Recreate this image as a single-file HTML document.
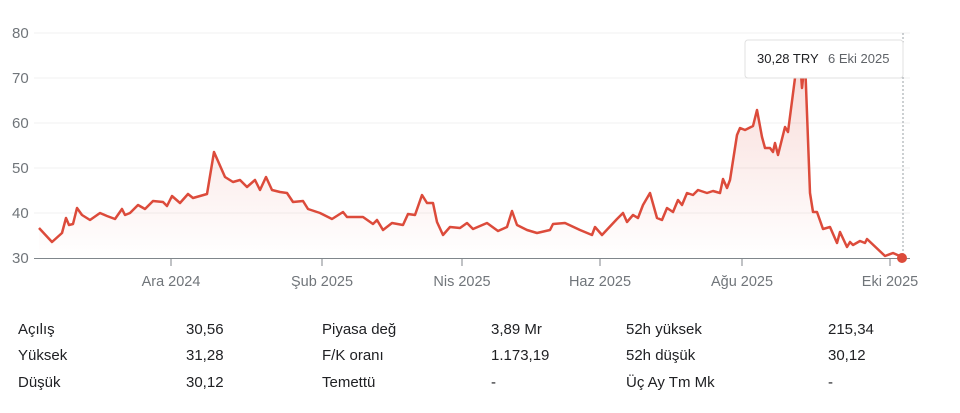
<!DOCTYPE html>
<html><head><meta charset="utf-8"><style>
body{margin:0;background:#fff;font-family:"Liberation Sans",sans-serif;}
.t{position:absolute;font-size:15px;color:#202124;}
</style></head><body>
<div style="position:relative;width:960px;height:413px;overflow:hidden">
<svg width="960" height="300" style="position:absolute;left:0;top:0" font-family="Liberation Sans, sans-serif">
<defs><linearGradient id="g" x1="0" y1="0" x2="0" y2="1"><stop offset="0" stop-color="#e0594a" stop-opacity="0.22"/><stop offset="1" stop-color="#e0594a" stop-opacity="0"/></linearGradient></defs>
<g stroke="#f1f1f1" stroke-width="1">
<line x1="34" y1="33" x2="910" y2="33"/><line x1="34" y1="78" x2="910" y2="78"/><line x1="34" y1="123" x2="910" y2="123"/><line x1="34" y1="168" x2="910" y2="168"/><line x1="34" y1="213" x2="910" y2="213"/>
</g>
<g fill="#70757a" font-size="15">
<text x="12" y="38">80</text><text x="12" y="83">70</text><text x="12" y="128">60</text><text x="12" y="173">50</text><text x="12" y="218">40</text><text x="12" y="263">30</text>
</g>
<polygon fill="url(#g)" points="39,228 52,242 62,233 66,218 69,225 73,224 77,208 82,215 90,220 100,213 107,216 115,219 122,209 125,215 130,213 138,205 145,209 153,201 163,202 167,206 172,196 180,203 188,194 193,198 207,194 214,152 225,177 233,182 240,180 247,187 255,180 260,190 266,177 272,190 280,192 287,193 293,202 303,201 308,209 320,213 332,219 343,212 347,217 363,217 373,224 377,220 383,230 392,223 403,225 408,214 415,215 422,195 427,203 433,203 437,222 443,235 450,227 460,228 467,223 473,229 480,226 487,223 498,231 507,227 512,211 517,225 527,230 537,233 550,230 553,224 565,223 580,230 592,235 595,227 602,235 617,219 623,213 627,222 633,215 638,218 643,205 650,193 657,218 662,220 667,208 673,212 678,200 682,205 687,193 693,195 698,190 707,193 713,191 720,193 723,179 727,188 730,180 737,135 740,128 745,130 753,126 757,110 762,137 765,148 770,148 773,152 775,143 778,155 785,127 788,132 795,78 800,60 802,88 805,60 810,193 813,212 817,212 823,229 830,227 837,243 840,232 847,247 850,242 853,245 860,241 865,243 867,239 885,256 893,253 902,257 902,258 39,258"/>
<line x1="34" y1="258.5" x2="910" y2="258.5" stroke="#80868b" stroke-width="1"/>
<g stroke="#80868b"><line x1="171" y1="258" x2="171" y2="266"/><line x1="322" y1="258" x2="322" y2="266"/><line x1="462" y1="258" x2="462" y2="266"/><line x1="600" y1="258" x2="600" y2="266"/><line x1="742" y1="258" x2="742" y2="266"/><line x1="890" y1="258" x2="890" y2="266"/></g>
<polyline fill="none" stroke="#dc4b3b" stroke-width="2.5" stroke-linejoin="round" points="39,228 52,242 62,233 66,218 69,225 73,224 77,208 82,215 90,220 100,213 107,216 115,219 122,209 125,215 130,213 138,205 145,209 153,201 163,202 167,206 172,196 180,203 188,194 193,198 207,194 214,152 225,177 233,182 240,180 247,187 255,180 260,190 266,177 272,190 280,192 287,193 293,202 303,201 308,209 320,213 332,219 343,212 347,217 363,217 373,224 377,220 383,230 392,223 403,225 408,214 415,215 422,195 427,203 433,203 437,222 443,235 450,227 460,228 467,223 473,229 480,226 487,223 498,231 507,227 512,211 517,225 527,230 537,233 550,230 553,224 565,223 580,230 592,235 595,227 602,235 617,219 623,213 627,222 633,215 638,218 643,205 650,193 657,218 662,220 667,208 673,212 678,200 682,205 687,193 693,195 698,190 707,193 713,191 720,193 723,179 727,188 730,180 737,135 740,128 745,130 753,126 757,110 762,137 765,148 770,148 773,152 775,143 778,155 785,127 788,132 795,78 800,60 802,88 805,60 810,193 813,212 817,212 823,229 830,227 837,243 840,232 847,247 850,242 853,245 860,241 865,243 867,239 885,256 893,253 902,257"/>
<line x1="903" y1="33" x2="903" y2="258" stroke="#9aa0a6" stroke-dasharray="2,2"/>
<rect x="745" y="40" width="158" height="38" rx="3" fill="#fff" stroke="#e0e0e0"/>
<text x="757" y="63" font-size="13" fill="#202124">30,28 TRY</text><text x="828" y="63" font-size="13" fill="#5f6368">6 Eki 2025</text>
<circle cx="902" cy="258" r="5" fill="#dc4b3b"/>
<g fill="#70757a" font-size="14.5" text-anchor="middle">
<text x="171" y="286">Ara 2024</text><text x="322" y="286">Şub 2025</text><text x="462" y="286">Nis 2025</text><text x="600" y="286">Haz 2025</text><text x="742" y="286">Ağu 2025</text><text x="890" y="286">Eki 2025</text>
</g>
</svg>
<div class="t" style="left:18px;top:321px">Açılış</div><div class="t" style="left:186px;top:321px">30,56</div>
<div class="t" style="left:18px;top:347px">Yüksek</div><div class="t" style="left:186px;top:347px">31,28</div>
<div class="t" style="left:18px;top:374px">Düşük</div><div class="t" style="left:186px;top:374px">30,12</div>
<div class="t" style="left:322px;top:321px">Piyasa değ</div><div class="t" style="left:491px;top:321px">3,89 Mr</div>
<div class="t" style="left:322px;top:347px">F/K oranı</div><div class="t" style="left:491px;top:347px">1.173,19</div>
<div class="t" style="left:322px;top:374px">Temettü</div><div class="t" style="left:491px;top:374px">-</div>
<div class="t" style="left:626px;top:321px">52h yüksek</div><div class="t" style="left:828px;top:321px">215,34</div>
<div class="t" style="left:626px;top:347px">52h düşük</div><div class="t" style="left:828px;top:347px">30,12</div>
<div class="t" style="left:626px;top:374px">Üç Ay Tm Mk</div><div class="t" style="left:828px;top:374px">-</div>
</div>
</body></html>
